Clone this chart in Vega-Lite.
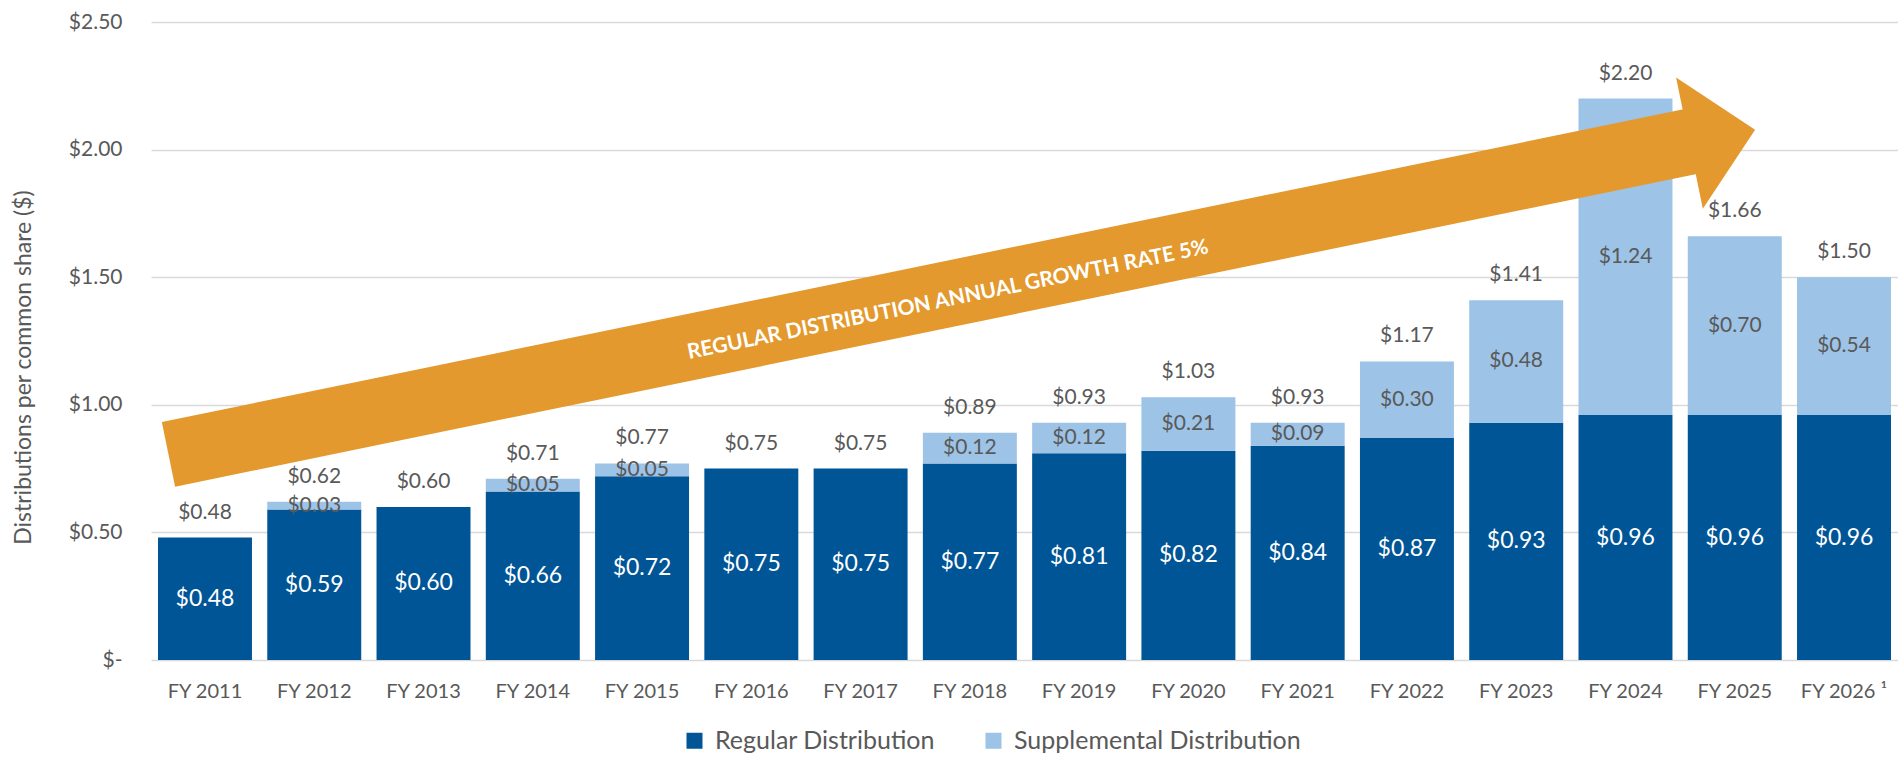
{
  "$schema": "https://vega.github.io/schema/vega-lite/v6.json",
  "width": 1747,
  "height": 638,
  "autosize": "none",
  "padding": {"left": 151, "top": 22, "right": 0, "bottom": 98},
  "background": "white",
  "config": {
    "font": "Lato",
    "view": {"stroke": null},
    "text": {"font": "Lato"}
  },
  "datasets": {
    "dist": [
      {"fy": "FY 2011", "regular": 0.48, "supplemental": 0, "total": 0.48},
      {"fy": "FY 2012", "regular": 0.59, "supplemental": 0.03, "total": 0.62},
      {"fy": "FY 2013", "regular": 0.60, "supplemental": 0, "total": 0.60},
      {"fy": "FY 2014", "regular": 0.66, "supplemental": 0.05, "total": 0.71},
      {"fy": "FY 2015", "regular": 0.72, "supplemental": 0.05, "total": 0.77},
      {"fy": "FY 2016", "regular": 0.75, "supplemental": 0, "total": 0.75},
      {"fy": "FY 2017", "regular": 0.75, "supplemental": 0, "total": 0.75},
      {"fy": "FY 2018", "regular": 0.77, "supplemental": 0.12, "total": 0.89},
      {"fy": "FY 2019", "regular": 0.81, "supplemental": 0.12, "total": 0.93},
      {"fy": "FY 2020", "regular": 0.82, "supplemental": 0.21, "total": 1.03},
      {"fy": "FY 2021", "regular": 0.84, "supplemental": 0.09, "total": 0.93},
      {"fy": "FY 2022", "regular": 0.87, "supplemental": 0.30, "total": 1.17},
      {"fy": "FY 2023", "regular": 0.93, "supplemental": 0.48, "total": 1.41},
      {"fy": "FY 2024", "regular": 0.96, "supplemental": 1.24, "total": 2.20},
      {"fy": "FY 2025", "regular": 0.96, "supplemental": 0.70, "total": 1.66},
      {"fy": "FY 2026 ¹", "regular": 0.96, "supplemental": 0.54, "total": 1.50}
    ],
    "arrowShaft": [
      {"year": 2010.66, "dollars": 0.806},
      {"year": 2024.64, "dollars": 2.035}
    ],
    "arrowHead": [
      {"year": 2024.59, "dollars": 2.025}
    ],
    "arrowLabel": [
      {"year": 2017.8, "dollars": 1.41, "label": "REGULAR DISTRIBUTION ANNUAL GROWTH RATE 5%"}
    ]
  },
  "resolve": {"scale": {"x": "independent"}},
  "layer": [
    {
      "data": {"name": "dist"},
      "layer": [
        {
          "transform": [{"fold": ["regular", "supplemental"], "as": ["type", "value"]}],
          "mark": {"type": "bar"},
          "encoding": {
            "x": {
              "field": "fy", "type": "nominal", "sort": null, "title": null,
              "scale": {"type": "band", "paddingInner": 0.14, "paddingOuter": 0.064},
              "axis": {
                "title": null, "domain": false, "ticks": false, "labelAngle": 0,
                "labelFontSize": 20, "labelColor": "#595959", "labelPadding": 21,
                "labelLimit": 300
              }
            },
            "y": {
              "field": "value", "type": "quantitative", "stack": "zero",
              "title": "Distributions per common share ($)",
              "scale": {"domain": [0, 2.5], "nice": false},
              "axis": {
                "values": [0, 0.5, 1, 1.5, 2, 2.5],
                "labelExpr": "datum.value == 0 ? '$-' : '$' + format(datum.value, '.2f')",
                "domain": false, "ticks": false, "grid": true,
                "gridColor": "#D9D9D9", "gridWidth": 1.5,
                "labelFontSize": 21, "labelColor": "#595959", "labelPadding": 29,
                "title": "Distributions per common share ($)",
                "titleFontSize": 23, "titleFontWeight": "normal", "titleColor": "#595959",
                "titleX": -128, "titleY": 345, "titleAngle": -90,
                "titleAlign": "center", "titleBaseline": "middle"
              }
            },
            "color": {
              "field": "type", "type": "nominal",
              "scale": {"domain": ["regular", "supplemental"], "range": ["#005596", "#9DC3E6"]},
              "legend": {
                "title": null, "orient": "none", "legendX": 531, "legendY": 706,
                "direction": "horizontal", "symbolType": "square", "symbolSize": 256,
                "symbolStrokeWidth": 0, "labelFontSize": 25, "labelColor": "#595959",
                "labelOffset": 8, "columnPadding": 46, "labelLimit": 600,
                "labelExpr": "datum.label == 'regular' ? 'Regular Distribution' : 'Supplemental Distribution'"
              }
            },
            "order": {"field": "type"}
          }
        },
        {
          "transform": [
            {"fold": ["regular", "supplemental"], "as": ["type", "value"]},
            {"stack": "value", "groupby": ["fy"], "sort": [{"field": "type", "order": "ascending"}], "as": ["v0", "v1"]},
            {"filter": "datum.value > 0 && datum.type == 'regular'"},
            {"fold": ["v0", "v1"], "as": ["edge", "pos"]}
          ],
          "mark": {"type": "text", "fontSize": 23, "fill": "#FFFFFF", "align": "center", "baseline": "middle"},
          "encoding": {
            "x": {"field": "fy", "type": "nominal", "sort": null, "title": null},
            "y": {"aggregate": "mean", "field": "pos", "type": "quantitative", "title": "Distributions per common share ($)"},
            "text": {"aggregate": "max", "field": "value", "type": "quantitative", "format": "$.2f"}
          }
        },
        {
          "transform": [
            {"fold": ["regular", "supplemental"], "as": ["type", "value"]},
            {"stack": "value", "groupby": ["fy"], "sort": [{"field": "type", "order": "ascending"}], "as": ["v0", "v1"]},
            {"filter": "datum.value > 0 && datum.type == 'supplemental'"},
            {"fold": ["v0", "v1"], "as": ["edge", "pos"]}
          ],
          "mark": {"type": "text", "fontSize": 21, "fill": "#595959", "align": "center", "baseline": "middle"},
          "encoding": {
            "x": {"field": "fy", "type": "nominal", "sort": null, "title": null},
            "y": {"aggregate": "mean", "field": "pos", "type": "quantitative", "title": "Distributions per common share ($)"},
            "text": {"aggregate": "max", "field": "value", "type": "quantitative", "format": "$.2f"}
          }
        },
        {
          "mark": {"type": "text", "fontSize": 21, "fill": "#595959", "align": "center", "baseline": "middle", "dy": -25},
          "encoding": {
            "x": {"field": "fy", "type": "nominal", "sort": null, "title": null},
            "y": {"field": "total", "type": "quantitative", "title": "Distributions per common share ($)"},
            "text": {"field": "total", "type": "quantitative", "format": "$.2f"}
          }
        }
      ]
    },
    {
      "layer": [
        {
          "data": {"name": "arrowShaft"},
          "mark": {"type": "line", "stroke": "#E3992D", "strokeWidth": 66, "strokeCap": "butt"},
          "encoding": {
            "x": {"field": "year", "type": "quantitative", "scale": {"domain": [2010.5, 2026.5], "nice": false, "zero": false}, "axis": null},
            "y": {"field": "dollars", "type": "quantitative", "title": "Distributions per common share ($)"}
          }
        },
        {
          "data": {"name": "arrowHead"},
          "mark": {"type": "point", "shape": "M0,-1L1,0L0,1Z", "size": 17956, "angle": -11.5, "filled": true, "fill": "#E3992D", "opacity": 1, "strokeWidth": 0},
          "encoding": {
            "x": {"field": "year", "type": "quantitative", "axis": null},
            "y": {"field": "dollars", "type": "quantitative", "title": "Distributions per common share ($)"}
          }
        },
        {
          "data": {"name": "arrowLabel"},
          "mark": {"type": "text", "angle": -11.5, "fontWeight": "bold", "fontSize": 21, "fill": "#FFFFFF", "align": "center", "baseline": "middle"},
          "encoding": {
            "x": {"field": "year", "type": "quantitative", "axis": null},
            "y": {"field": "dollars", "type": "quantitative", "title": "Distributions per common share ($)"},
            "text": {"field": "label"}
          }
        }
      ]
    }
  ]
}
